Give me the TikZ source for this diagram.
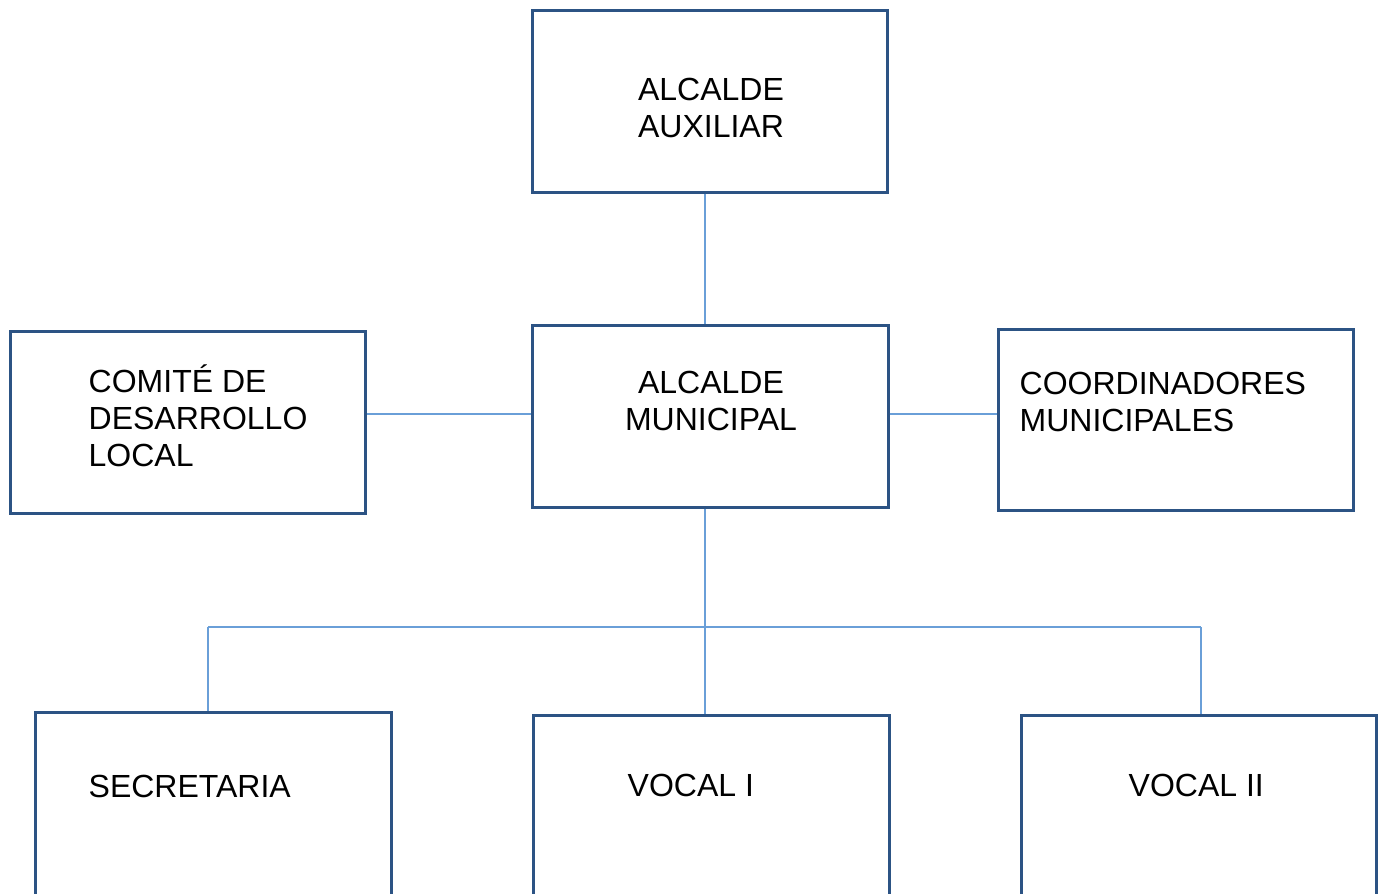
\documentclass[tikz,border=0pt]{standalone}
\usepackage{fontspec}
\setmainfont{Liberation Sans}
\usepackage{tikz}
\definecolor{framenavy}{HTML}{2C5384}
\definecolor{wireblue}{HTML}{6A9FD8}

\begin{document}
\begin{tikzpicture}[x=0.01cm, y=-0.01cm,
        post/.style={draw=framenavy, line width=0.85pt, minimum width=3.55cm, minimum height=1.81cm, inner sep=0pt},
        lowpost/.style={post, minimum height=1.95cm},
        wire/.style={wireblue, line width=0.4pt},
        tag/.style={inner sep=0pt, font=\fontsize{9.1}{10.45}\selectfont}]
            \useasboundingbox (0,0) rectangle (1382,893);
            % cajas
            \node[post] (aux) at (710,101.5) {};
            \node[post] (mun) at (710.5,416.5) {};
            \node[post] (com) at (188,422.5) {};
            \node[post] (coo) at (1176,420) {};
            \node[lowpost] (sec) at (213.5,810) {};
            \node[lowpost] (vo1) at (711.5,813) {};
            \node[lowpost] (vo2) at (1199,813) {};
            % textos (base = ultima linea)
            \node[tag, anchor=base, align=center] (auxt) at (711,137) {ALCALDE\\AUXILIAR};
            \node[tag, anchor=base, align=center] (munt) at (711,430) {ALCALDE\\MUNICIPAL};
            \node[tag, anchor=base west, align=left] (comt) at (88,466) {COMITÉ DE\\DESARROLLO\\LOCAL};
            \node[tag, anchor=base west, align=left] (coot) at (1019,431) {COORDINADORES\\MUNICIPALES};
            \node[tag, anchor=base west] (sect) at (88,797) {SECRETARIA};
            \node[tag, anchor=base west] (vo1t) at (627,796) {VOCAL I};
            \node[tag, anchor=base west] (vo2t) at (1128,796) {VOCAL II};
            % lineas
            \coordinate (trunk) at (705,627);
            \coordinate (mid) at (705,414);
            \coordinate (lbus) at (208,627);
            \coordinate (rbus) at (1201,627);
            \draw[wire] (aux.south -| trunk) -- (mun.north -| trunk);
            \draw[wire] (com.east |- mid) -- (mun.west |- mid);
            \draw[wire] (mun.east |- mid) -- (coo.west |- mid);
            \draw[wire] (mun.south -| trunk) -- (vo1.north -| trunk);
            \draw[wire] (lbus) -- (rbus);
            \draw[wire] (lbus) -- (lbus |- sec.north);
            \draw[wire] (rbus) -- (rbus |- vo2.north);
        \end{tikzpicture}
\end{document}
